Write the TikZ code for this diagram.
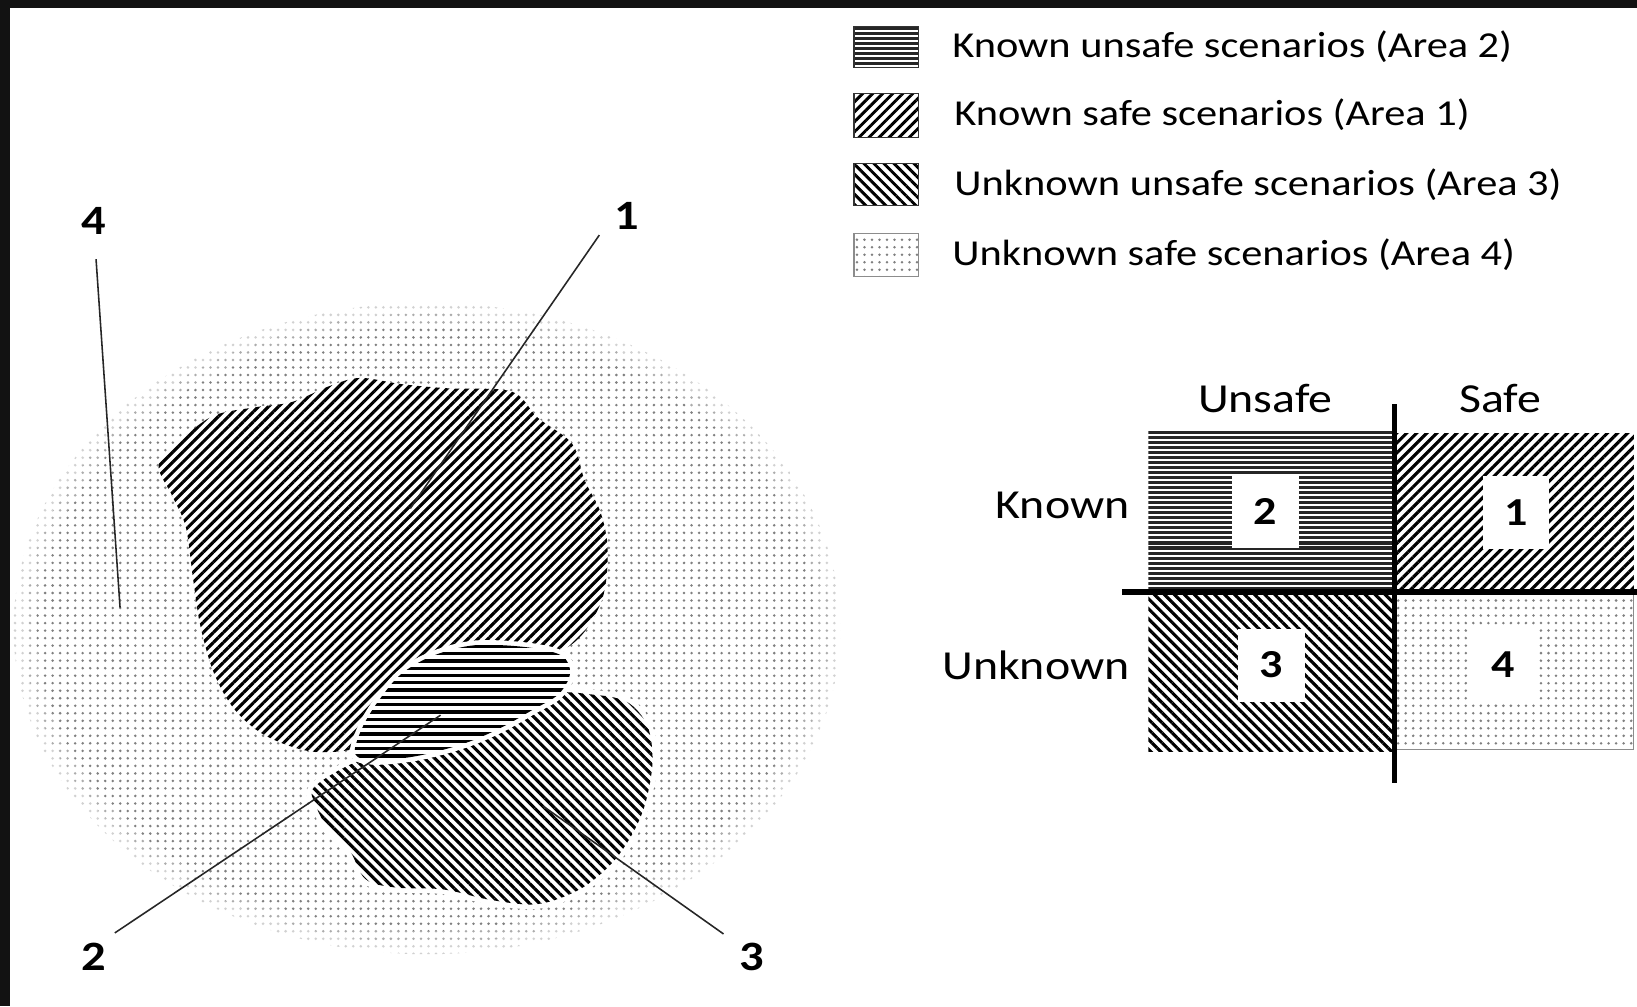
\documentclass[tikz,border=0pt]{standalone}
\usepackage{fontspec}
\setmainfont{Carlito}[FakeStretch=1.16]
\usetikzlibrary{patterns.meta}

\tikzset{
  legtxt/.style={anchor=base west, font=\fontsize{35}{40}\selectfont, inner sep=0pt},
  hdr/.style={anchor=base, font=\fontsize{39.5}{44}\selectfont, inner sep=0pt},
  numlbl/.style={anchor=base, font=\fontsize{40}{44}\selectfont\bfseries, inner sep=0pt},
  cellnum/.style={fill=white, font=\fontsize{38}{44}\selectfont\bfseries,
    minimum width=64pt, minimum height=70pt, inner sep=0pt},
  leader/.style={draw=black!85, line width=1.5pt},
  axis/.style={draw=black, line width=5pt},
  % hatchings of the four areas
  nelines/.style={pattern={Lines[angle=45,distance=6.8pt,line width=3pt]}},
  nwlines/.style={pattern={Lines[angle=-45,distance=6.8pt,line width=3pt]}},
  rule/.style={draw=black, line width=3.2pt},
  denserule/.style={draw=black!85, line width=2.9pt},
  keynelines/.style={pattern={Lines[angle=45,distance=6.8pt,line width=2.8pt]}},
  keynwlines/.style={pattern={Lines[angle=-45,distance=6.8pt,line width=2.8pt]}},
  dotfill/.style={pattern={Dots[distance=7.2pt,radius=1.35pt]}, pattern color=black!50},
  keybox/.style={draw=black!80, line width=1pt},
  blob/.style={preaction={fill=white}},
  cutblob/.style={fill=white, draw=white, line width=9pt},
}

\begin{document}
\begin{tikzpicture}[x=1pt,y=-1pt]
  \useasboundingbox (0,0) rectangle (1568,964);
  \fill[white] (0,0) rectangle (1568,964);

  % ---------- the scenario space ----------
  \path[dotfill] (409,602) ellipse [x radius=396, y radius=312];
  % softened rim of the dotted space
  \draw[white, opacity=0.35, line width=44pt] (409,602) ellipse [x radius=396, y radius=312];
  \draw[white, opacity=0.45, line width=20pt] (409,602) ellipse [x radius=396, y radius=312];

  % area 1: known safe
  \path[blob, nelines] plot[smooth cycle, tension=0.55] coordinates {
    (152,445) (175,420) (205,398) (245,390) (280,385) (315,370) (345,362)
    (385,368) (430,372) (490,375) (515,400) (548,425) (560,460) (575,490)
    (582,525) (578,570) (560,605) (535,625) (490,640) (440,660) (400,690)
    (350,715) (300,720) (255,705) (225,680) (205,645) (192,600) (185,555)
    (178,505) (165,475)};

  % area 3: unknown unsafe
  \path[cutblob] plot[smooth cycle, tension=0.55] coordinates {
    (300,755) (330,735) (370,720) (430,712) (490,690) (530,665) (565,665)
    (600,672) (620,695) (625,730) (618,770) (605,800) (585,828) (555,852)
    (515,866) (470,862) (425,852) (378,850) (350,842) (335,815) (312,790)
    (302,770)};
  \path[nwlines] plot[smooth cycle, tension=0.55] coordinates {
    (300,755) (330,735) (370,720) (430,712) (490,690) (530,665) (565,665)
    (600,672) (620,695) (625,730) (618,770) (605,800) (585,828) (555,852)
    (515,866) (470,862) (425,852) (378,850) (350,842) (335,815) (312,790)
    (302,770)};

  % area 2: known unsafe
  \path[cutblob] plot[smooth cycle, tension=0.55] coordinates {
    (340,722) (348,695) (365,668) (385,645) (415,628) (455,618) (505,620)
    (538,628) (546,645) (535,665) (510,680) (480,697) (445,712) (400,724)
    (360,728)};
  \begin{scope}
    \clip plot[smooth cycle, tension=0.55] coordinates {
      (340,722) (348,695) (365,668) (385,645) (415,628) (455,618) (505,620)
      (538,628) (546,645) (535,665) (510,680) (480,697) (445,712) (400,724)
      (360,728)};
    \foreach \y in {612,619,...,735} \draw[rule] (330,\y) -- (555,\y);
  \end{scope}

  % area labels and leaders
  \node[numlbl] (l4) at (90,225) {4};
  \node[numlbl] (l1) at (600,220) {1};
  \node[numlbl] (l2) at (90,930) {2};
  \node[numlbl] (l3) at (720,930) {3};
  \coordinate (p4) at (115,582);
  \coordinate (p1) at (393,487);
  \coordinate (p2) at (422,685);
  \coordinate (p3) at (520,772);
  \draw[leader] (l4.south) ++(2,23) -- (p4);
  \draw[leader] (l1.south west) ++(-14,5) -- (p1);
  \draw[leader] (l2.north) ++(20,-10) -- (p2);
  \draw[leader] (l3.north) ++(-27,-9) -- (p3);

  % ---------- legend ----------
  \begin{scope}
    \clip (818,25) rectangle (880,65);
    \foreach \y in {27,31.8,...,66} \draw[denserule] (818,\y) -- (880,\y);
  \end{scope}
  \draw[keybox] (818,25) rectangle (880,65);
  \node[legtxt] (k2) at (912,55) {Known unsafe scenarios (Area 2)};
  \path[keynelines] (818,90) rectangle (880,132);
  \draw[keybox] (818,90) rectangle (880,132);
  \node[legtxt] (k1) at (914,120) {Known safe scenarios (Area 1)};
  \path[keynwlines] (818,157) rectangle (880,197);
  \draw[keybox] (818,157) rectangle (880,197);
  \node[legtxt] (k3) at (914,187) {Unknown unsafe scenarios (Area 3)};
  \path[dotfill] (818,224) rectangle (880,265);
  \draw[keybox, draw=black!45] (818,224) rectangle (880,265);
  \node[legtxt] (k4) at (912,254) {Unknown safe scenarios (Area 4)};

  % ---------- known/unknown by safe/unsafe matrix ----------
  \begin{scope}
    \clip (1100,413) rectangle (1336,567);
    \foreach \y in {414.5,419.3,...,568} \draw[denserule] (1100,\y) -- (1336,\y);
  \end{scope}
  \path[nelines] (1336,415) rectangle (1565,567);
  \path[nwlines] (1100,567) rectangle (1336,720);
  \path[dotfill] (1336,567) rectangle (1565,718);
  \draw[draw=black!45, line width=1pt] (1336,718) -- (1565,718) -- (1565,567);

  \node[cellnum] (c2) at (1212,490) {2};
  \node[cellnum] (c1) at (1452,491) {1};
  \node[cellnum] (c3) at (1218,637) {3};
  \node[cellnum] (c4) at (1440,637) {4};

  \draw[axis] (1336,387) -- (1336,750);
  \draw[axis] (1075,567) -- (1568,567);

  \node[hdr] (hu) at (1212,395) {Unsafe};
  \node[hdr] (hs) at (1437,395) {Safe};
  \node[hdr, anchor=base east] (rk) at (1082,497) {Known};
  \node[hdr, anchor=base east] (ru) at (1082,651) {Unknown};

  % dark frame along the top and left edges
  \fill[black!93] (0,0) rectangle (1568,8);
  \fill[black!93] (0,0) rectangle (10,964);
\end{tikzpicture}
\end{document}
